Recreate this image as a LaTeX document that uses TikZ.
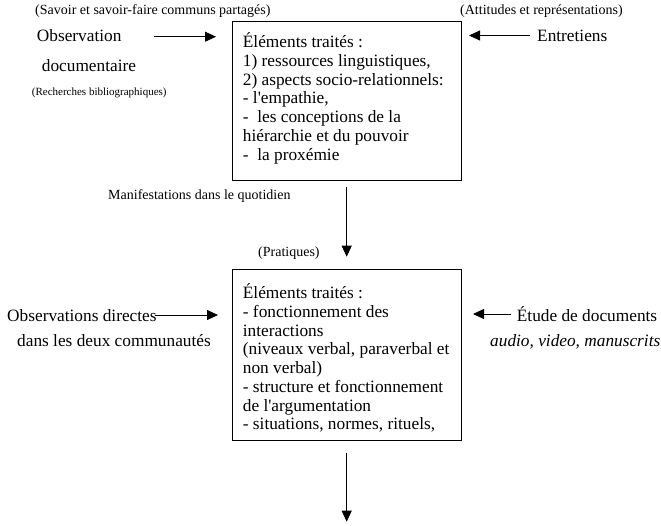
\documentclass[tikz,border=0pt]{standalone}
\usepackage{fontspec}
\setmainfont{Liberation Serif}
\usetikzlibrary{arrows.meta}
\tikzset{
  main/.style={font=\fontsize{17.3}{18.75}\selectfont, inner sep=0pt},
  small/.style={font=\fontsize{14}{16}\selectfont, inner sep=0pt},
  tiny/.style={font=\fontsize{11}{13}\selectfont, inner sep=0pt},
  boxframe/.style={draw, line width=0.8pt, inner sep=0pt},
  arr/.style={line width=0.8pt, -{Triangle[length=11pt,width=10pt]}},
}
\begin{document}
\begin{tikzpicture}[x=1pt,y=-1pt]
\useasboundingbox (0,0) rectangle (661,525);

% boxes
\node[boxframe, anchor=north west, minimum width=229pt, minimum height=159pt] (b1) at (231.7,21) {};
\node[boxframe, anchor=north west, minimum width=229pt, minimum height=171pt] (b2) at (231.7,269) {};

% box 1 text
\foreach \t [count=\i] in {{Éléments traités :},{1) ressources linguistiques,},{2) aspects socio-relationnels:},{- l\textquotesingle empathie,},{- \ les conceptions de la},{hiérarchie et du pouvoir},{- \ la proxémie}}
  \node[main, anchor=base west] (b1l\i) at (242.7,{47.5+18.75*(\i-1)}) {\t};

% box 2 text
\foreach \t [count=\i] in {{Éléments traités :},{- fonctionnement des},{interactions},{(niveaux verbal, paraverbal et},{non verbal)},{- structure et fonctionnement},{de l\textquotesingle argumentation},{- situations, normes, rituels,}}
  \node[main, anchor=base west] (b2l\i) at (242.7,{298.5+18.75*(\i-1)}) {\t};

% top labels
\node[small, anchor=base west] (savoir) at (35,14.5) {(Savoir et savoir-faire communs partagés)};
\node[small, anchor=base west] (attitudes) at (460,14.5) {(Attitudes et représentations)};
\node[main, anchor=base west] (obs) at (36.7,41.6) {Observation};
\node[main, anchor=base west] (doc) at (41.7,71.7) {documentaire};
\node[tiny, anchor=base west] (rech) at (31.7,95) {(Recherches bibliographiques)};
\node[main, anchor=base west] (entr) at (537,41.6) {Entretiens};

% middle labels
\node[small, anchor=base west] (manif) at (108,199.5) {Manifestations dans le quotidien};
\node[small, anchor=base west] (prat) at (258,256.5) {(Pratiques)};

% lower labels
\node[main, anchor=base west] (obsdir) at (7,321.3) {Observations directes};
\node[main, anchor=base west] (deux) at (17,346) {dans les deux communautés};
\node[main, anchor=base west] (etude) at (516.7,321.3) {Étude de documents};
\node[main, anchor=base east] (audio) at (660.5,346) {\itshape audio, video, manuscrits};

% arrow end points
\coordinate (a1s) at (154,36.7);
\coordinate (a1e) at (216,36.7);
\coordinate (a2s) at (530,35.5);
\coordinate (a2e) at (469,35.5);
\coordinate (v1s) at (346.7,186.7);
\coordinate (v1e) at (346.7,256.7);
\coordinate (a3s) at (155,315);
\coordinate (a3e) at (218,315);
\coordinate (a4s) at (510.7,314);
\coordinate (a4e) at (473,314);
\coordinate (v2s) at (346.7,452.7);
\coordinate (v2e) at (346.7,521.7);

\draw[arr] (a1s) -- (a1e);
\draw[arr] (a2s) -- (a2e);
\draw[arr] (v1s) -- (v1e);
\draw[arr] (a3s) -- (a3e);
\draw[arr] (a4s) -- (a4e);
\draw[arr] (v2s) -- (v2e);
\end{tikzpicture}
\end{document}
